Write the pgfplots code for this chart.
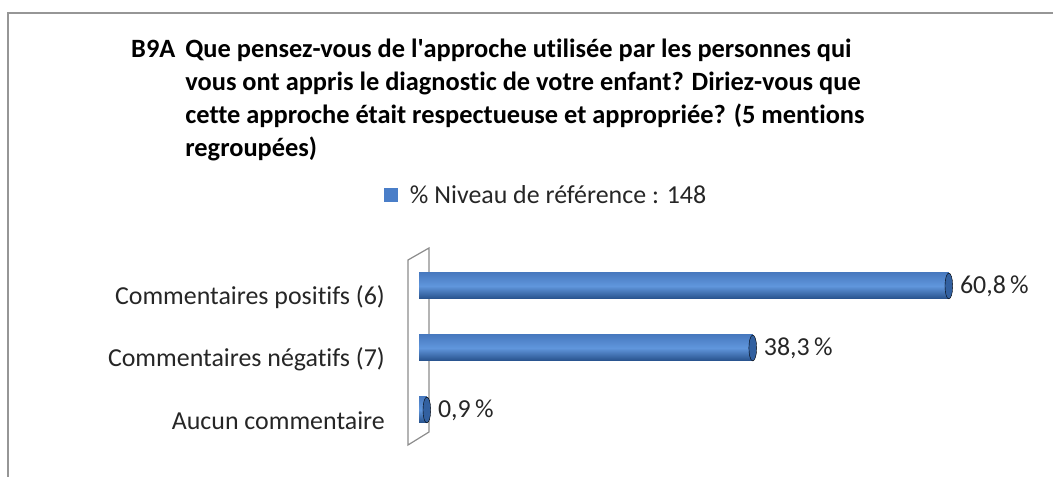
\documentclass[border=0pt]{standalone}
\usepackage{pgfplots}
\pgfplotsset{compat=1.18}
\usepackage{fontspec}
\setmainfont{Carlito}[Ligatures=CommonOff]
\definecolor{barmid}{RGB}{96,150,220}
\definecolor{bartop}{RGB}{72,122,192}
\definecolor{barbot}{RGB}{38,80,138}
\definecolor{barcap}{RGB}{50,96,160}
\definecolor{legblue}{RGB}{74,126,200}
\definecolor{framegray}{RGB}{150,150,150}
\definecolor{txt}{RGB}{38,38,38}
\pgfplotsset{
  cyl/.style={xbar, bar shift=0pt, draw=none, top color=bartop, bottom color=barbot, middle color=barmid,
    nodes near coords={\pgfmathprintnumber[fixed,fixed zerofill,precision=1,use comma]{\pgfplotspointmeta}\,\%},
    nodes near coords align=horizontal,
    every node near coord/.append style={text=txt, font=\fontsize{26}{28}\selectfont, anchor=west, xshift=11bp, inner sep=0pt}},
  cap/.style={only marks, mark=*, mark size=13pt, mark options={xscale=0.3, fill=barcap, draw=none}, forget plot},
}
\begin{document}
\begin{tikzpicture}[x=1bp,y=1bp]
\useasboundingbox (0,0) rectangle (1053,477);
\draw[framegray, line width=2bp] (8,-5) -- (8,464) -- (1060,464);
\draw[black!45, line width=1.2bp] (408,217) -- (429,229) -- (429,45) -- (408,32) -- cycle;
\node[anchor=base west, inner sep=0pt, font=\bfseries\fontsize{26.5}{33}\selectfont] at (131,419) {%
\begin{tabular}[t]{@{}l@{\hspace{10bp}}l@{}}
B9A & Que pensez-vous de l\textquotesingle approche utilisée par les personnes qui\\
 & vous ont appris le diagnostic de votre enfant? Diriez-vous que\\
 & cette approche était respectueuse et appropriée? (5 mentions\\
 & regroupées)
\end{tabular}};
\begin{axis}[
  at={(419bp,36bp)}, anchor=south west,
  scale only axis, width=610bp, height=186bp,
  xmin=0, xmax=70, ymin=-0.5, ymax=2.5,
  axis line style={draw=none},
  tick style={draw=none},
  xtick=\empty,
  ytick={0,1,2},
  yticklabels={Aucun commentaire, Commentaires négatifs (7), Commentaires positifs (6)},
  yticklabel style={font=\fontsize{26}{28}\selectfont, text=txt, anchor=east, inner sep=0pt, xshift=-34bp, yshift=-11bp},
  bar width=26bp,
  /pgf/number format/assume math mode=true,
  legend style={draw=none, fill=none, inner sep=0pt, outer sep=0pt, nodes={inner sep=0pt}, at={(-0.0574,1.3226)}, anchor=west, font=\fontsize{26}{28}\selectfont, text=txt},
  clip=false,
]
\addplot[cyl,
  legend image code/.code={\pgfsetfillcolor{legblue}\pgfpathrectangle{\pgfpoint{0bp}{-7bp}}{\pgfpoint{14bp}{14bp}}\pgfusepath{fill}\pgfpathrectangle{\pgfpoint{0bp}{0bp}}{\pgfpoint{26bp}{0.1bp}}\pgfusepath{discard}},
] coordinates {(60.8,2)};
\addlegendentry{\% Niveau de référence~: 148}
\addplot[cyl, forget plot] coordinates {(38.3,1)};
\addplot[cyl, forget plot] coordinates {(0.9,0)};
\addplot[cap] coordinates {(0.9,0) (38.3,1) (60.8,2)};
\end{axis}
\end{tikzpicture}
\end{document}
